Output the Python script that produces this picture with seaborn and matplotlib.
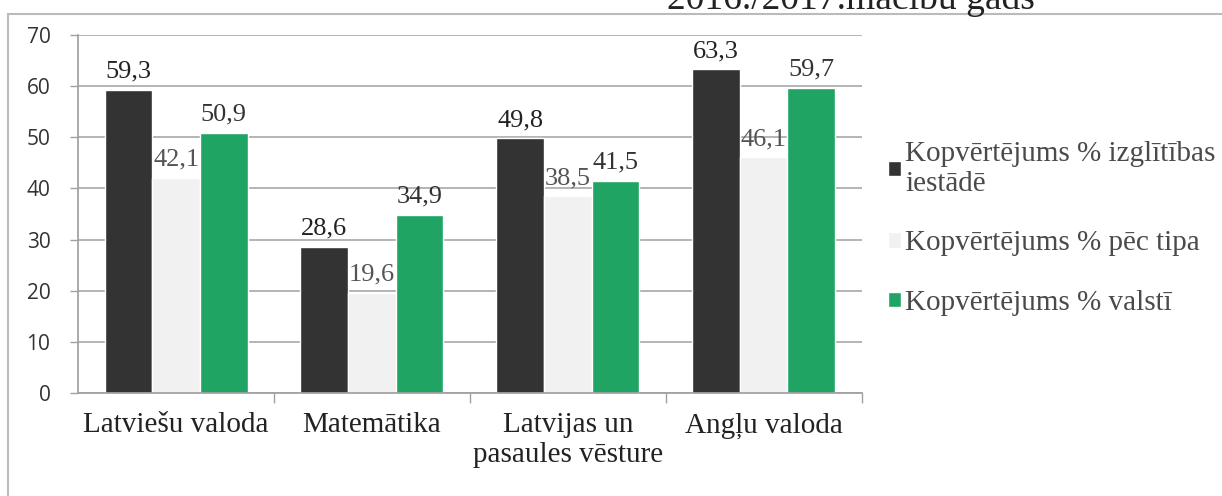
import pandas as pd
import matplotlib
matplotlib.use('Agg')
import matplotlib.pyplot as plt
import seaborn as sns
from matplotlib.patches import Rectangle

# Dati
categories = ["Latviešu valoda", "Matemātika", "Latvijas un\npasaules vēsture", "Angļu valoda"]
series = ["Kopvērtējums % izglītības\niestādē", "Kopvērtējums % pēc tipa", "Kopvērtējums % valstī"]
iestade = [59.3, 28.6, 49.8, 63.3]
tips = [42.1, 19.6, 38.5, 46.1]
valsts = [50.9, 34.9, 41.5, 59.7]
colors = ['#333333', '#f1f1f1', '#1fa463']

df = pd.DataFrame({
    'kategorija': categories * 3,
    'serija': [series[0]] * 4 + [series[1]] * 4 + [series[2]] * 4,
    'vertiba': iestade + tips + valsts,
})

sns.set_theme(style="white")
plt.rcParams['font.family'] = ['Liberation Serif', 'DejaVu Serif']

fig = plt.figure(figsize=(12.22, 4.96), dpi=100)
ax = fig.add_axes([0.064, 0.208, 0.641, 0.721])

sns.barplot(data=df, x='kategorija', y='vertiba', hue='serija', palette=colors,
            width=0.73, gap=0, saturation=1, ax=ax, legend=True)

ax.set_ylim(0, 70)
ax.set_yticks(range(0, 71, 10))
ax.yaxis.grid(True, color='#a0a0a0', linewidth=1.1)
ax.set_axisbelow(True)
ax.set_xlabel('')
ax.set_ylabel('')
for s in ['top', 'right']:
    ax.spines[s].set_visible(False)
ax.spines['left'].set_color('#a0a0a0')
ax.spines['bottom'].set_color('#a0a0a0')
ax.tick_params(axis='x', labelsize=21, colors='#222222', pad=14, length=0)
ax.tick_params(axis='y', labelsize=15, labelcolor='#333333', color='#a0a0a0',
               left=True, length=6, width=1, pad=14)
for lbl in ax.get_yticklabels():
    lbl.set_family(['Open Sans', 'DejaVu Sans'])
# iedaļas starp kategorijām
ax.set_xticks([0.5, 1.5, 2.5, 3.5], minor=True)
ax.tick_params(axis='x', which='minor', bottom=True, length=7, width=1, color='#a0a0a0')

# Vērtību uzraksti
label_colors = ['#222222', '#555555', '#333333']
for cont, c in zip(ax.containers, label_colors):
    ax.bar_label(cont, labels=[f"{v:.1f}".replace('.', ',') for v in cont.datavalues],
                 padding=5, fontsize=19, color=c)

# Leģenda
handles, labels = ax.get_legend_handles_labels()
leg = ax.legend(handles, labels, loc='center left', bbox_to_anchor=(1.0, 0.46),
                frameon=False, fontsize=21, labelspacing=1.15, handlelength=0.45,
                handleheight=0.45, handletextpad=0.15, labelcolor='#4a4a4a')

# Virsraksts (daļēji nogriezts skenējumā)
fig.text(0.696, 1 - 9 / 496, "2016./2017.mācību gads", ha='center', va='baseline',
         fontsize=27, color='#222222')

# Rāmis
fig.patches.append(Rectangle((8 / 1222, -0.01), 1.2, 1 - 14 / 496 + 0.01,
                             transform=fig.transFigure, fill=False,
                             edgecolor='#bbbbbb', linewidth=1.5))

fig.savefig('out.png', dpi=100)
